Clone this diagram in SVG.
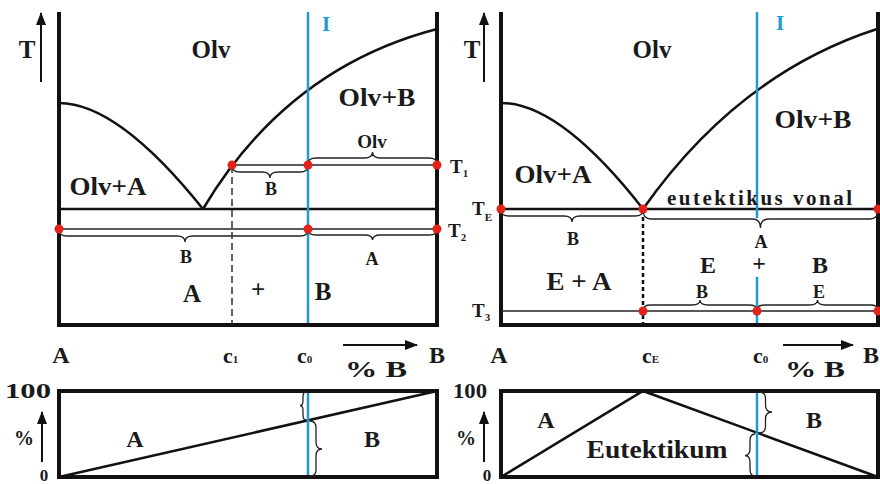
<svg xmlns="http://www.w3.org/2000/svg" width="880" height="484" viewBox="0 0 880 484" font-family="'Liberation Serif', 'Times New Roman', serif">
<defs>
<marker id="ah" viewBox="0 0 13 10" refX="12" refY="5" markerWidth="13" markerHeight="10" markerUnits="userSpaceOnUse" orient="auto">
<path d="M0,0 L13,5 L0,10 z" fill="#111"/>
</marker>
</defs>
<style>
text{font-family:"Liberation Serif","Times New Roman",serif;font-weight:bold;fill:#1a1a1a;text-anchor:middle}
.xl{font-size:25px}
.lg{font-size:24px}
.md{font-size:19px}
.sm{font-size:18px}
.st{text-anchor:start}
.sub{font-size:11px}
.blue{fill:#1e9ad6}
.frame{fill:none;stroke:#111;stroke-width:4}
.curve{fill:none;stroke:#111;stroke-width:2.5}
.thick{stroke:#111;stroke-width:2.5}
.thin{stroke:#222;stroke-width:1.4}
.bl{stroke:#1e9ad6;stroke-width:2.5}
.brace{fill:none;stroke:#222;stroke-width:1.3}
.arrow{stroke:#111;stroke-width:2;marker-end:url(#ah)}
.dot{fill:#e2231a}
</style>
<rect width="880" height="484" fill="#fff"/>

<g id="left-diagram">
<path class="frame" d="M59 12 V325 H437 V12"/>
<path class="curve" d="M59 103 Q118 103 203 209"/>
<path class="curve" d="M203 209 Q287 68 437 29"/>
<line class="thick" x1="59" y1="209" x2="437" y2="209"/>
<line class="thin" x1="59" y1="229" x2="437" y2="229"/>
<line class="thin" x1="232" y1="165" x2="437" y2="165"/>
<line class="thin" x1="232" y1="166" x2="232" y2="325" stroke-dasharray="7 4"/>
<line class="bl" x1="308" y1="12" x2="308" y2="323"/>
</g>

<g id="right-diagram">
<path class="frame" d="M501 12 V325 H878 V12"/>
<path class="curve" d="M501 103 Q560 103 643 209"/>
<path class="curve" d="M643 209 Q738 74 877 29"/>
<line class="thick" x1="501" y1="209" x2="878" y2="209" stroke-width="3"/>
<line class="thin" x1="501" y1="311" x2="878" y2="311"/>
<line class="thick" x1="643" y1="210" x2="643" y2="325" stroke-dasharray="4 3"/>
<line class="bl" x1="757" y1="12" x2="757" y2="218"/>
<line class="bl" x1="757" y1="277" x2="757" y2="323"/>
</g>

<g id="left-bar">
<rect class="frame" x="59" y="391" width="378" height="86"/>
<line class="curve" x1="59" y1="477" x2="437" y2="391"/>
<line class="bl" x1="308" y1="393" x2="308" y2="475"/>
</g>

<g id="right-bar">
<rect class="frame" x="501" y="391" width="377" height="86"/>
<path class="curve" d="M501 477 L643 391 L878 477"/>
<line class="bl" x1="757" y1="393" x2="757" y2="475"/>
</g>

<g id="connectors">
<path class="brace" d="M232 166 Q232 172 240 172 L262 172 Q270 172 270 178 Q270 172 278 172 L300 172 Q308 172 308 166"/>
<path class="brace" d="M308 164 Q308 158 316 158 L364.5 158 Q372.5 158 372.5 152 Q372.5 158 380.5 158 L429 158 Q437 158 437 164"/>
<path class="brace" d="M59 230 Q59 236 67 236 L177 236 Q185 236 185 242 Q185 236 193 236 L300 236 Q308 236 308 230"/>
<path class="brace" d="M308 230 Q308 235 316 235 L364.5 235 Q372.5 235 372.5 240 Q372.5 235 380.5 235 L429 235 Q437 235 437 230"/>
<path class="brace" d="M501 210 Q501 216 509 216 L564 216 Q572 216 572 222 Q572 216 580 216 L635 216 Q643 216 643 210"/>
<path class="brace" d="M643 210 Q643 219 651 219 L752.5 219 Q760.5 219 760.5 228 Q760.5 219 768.5 219 L870 219 Q878 219 878 210"/>
<path class="brace" d="M643 310 Q643 305 651 305 L692 305 Q700 305 700 300 Q700 305 708 305 L749 305 Q757 305 757 310"/>
<path class="brace" d="M757 310 Q757 305 765 305 L809.5 305 Q817.5 305 817.5 300 Q817.5 305 825.5 305 L870 305 Q878 305 878 310"/>
<path class="brace" d="M306 392 Q303 392 303 397 L303 400.5 Q303 405.5 300 405.5 Q303 405.5 303 410.5 L303 415 Q303 420 306 420"/>
<path class="brace" d="M310 421 Q316 421 316 428 L316 442 Q316 449 322 449 Q316 449 316 456 L316 470 Q316 476 310 476"/>
<path class="brace" d="M759 392 Q765.5 392 765.5 399 L765.5 405 Q765.5 412 772 412 Q765.5 412 765.5 419 L765.5 426 Q765.5 433 759 433"/>
<path class="brace" d="M755 434 Q750 434 750 441 L750 448.5 Q750 455.5 745 455.5 Q750 455.5 750 462.5 L750 469 Q750 476 755 476"/>
<line class="arrow" x1="41" y1="82" x2="41" y2="13"/>
<line class="arrow" x1="484" y1="82" x2="484" y2="13"/>
<line class="arrow" x1="42" y1="462" x2="42" y2="412"/>
<line class="arrow" x1="484" y1="462" x2="484" y2="412"/>
<line class="arrow" x1="343" y1="345" x2="417" y2="345"/>
<line class="arrow" x1="783" y1="345" x2="853" y2="345"/>
</g>

<g id="points">
<circle class="dot" cx="232" cy="165" r="4.5"/>
<circle class="dot" cx="308" cy="165" r="4.5"/>
<circle class="dot" cx="437" cy="165" r="4.5"/>
<circle class="dot" cx="59" cy="229" r="4.5"/>
<circle class="dot" cx="308" cy="229" r="4.5"/>
<circle class="dot" cx="437" cy="229" r="4.5"/>
<circle class="dot" cx="501" cy="209" r="4.5"/>
<circle class="dot" cx="643" cy="209" r="4.5"/>
<circle class="dot" cx="878" cy="209" r="4.5"/>
<circle class="dot" cx="643" cy="311" r="4.5"/>
<circle class="dot" cx="757" cy="311" r="4.5"/>
<circle class="dot" cx="878" cy="311" r="4.5"/>
</g>

<g id="left-labels">
<text class="xl" x="27" y="58" font-size="26">T</text>
<text class="xl" x="211" y="58">Olv</text>
<text class="blue" x="326" y="31" font-size="21">I</text>
<text class="xl" x="377" y="106" textLength="77" lengthAdjust="spacingAndGlyphs">Olv+B</text>
<text class="md" x="372" y="148">Olv</text>
<text class="sm" x="271" y="195">B</text>
<text class="xl" x="108" y="195" textLength="77" lengthAdjust="spacingAndGlyphs">Olv+A</text>
<text class="sm" x="186" y="263">B</text>
<text class="sm" x="372" y="265">A</text>
<text class="xl" x="192" y="302">A</text>
<text class="xl" x="258" y="298">+</text>
<text class="xl" x="323" y="300">B</text>
<text class="md st" x="450" y="173">T<tspan class="sub" dy="4">1</tspan></text>
<text class="md st" x="448" y="237">T<tspan class="sub" dy="4">2</tspan></text>
<text class="lg" x="61" y="363">A</text>
<text class="st" x="223" y="363" font-size="22">c<tspan class="sub" font-size="10">1</tspan></text>
<text class="st" x="297" y="363" font-size="22">c<tspan class="sub" font-size="10">0</tspan></text>
<text class="lg" x="376" y="377" textLength="62" lengthAdjust="spacingAndGlyphs">% B</text>
<text class="lg" x="437" y="363">B</text>
<text x="28" y="398" font-size="20" textLength="46" lengthAdjust="spacingAndGlyphs">100</text>
<text x="24" y="445" font-size="20">%</text>
<text x="44" y="481" font-size="17">0</text>
<text class="lg" x="135" y="447">A</text>
<text class="lg" x="372" y="447">B</text>
</g>

<g id="right-labels">
<text class="xl" x="472" y="58" font-size="26">T</text>
<text class="xl" x="652" y="58">Olv</text>
<text class="blue" x="780" y="30" font-size="21">I</text>
<text class="xl" x="813" y="128" textLength="77" lengthAdjust="spacingAndGlyphs">Olv+B</text>
<text class="xl" x="553" y="183" textLength="77" lengthAdjust="spacingAndGlyphs">Olv+A</text>
<text class="md st" x="472" y="215">T<tspan class="sub" dy="6">E</tspan></text>
<text class="st" x="667" y="205" font-size="21" textLength="185" lengthAdjust="spacing">eutektikus vonal</text>
<text class="sm" x="573" y="245">B</text>
<text class="sm" x="761" y="248">A</text>
<text class="xl" x="579" y="290" font-size="26" textLength="65" lengthAdjust="spacingAndGlyphs">E + A</text>
<text class="lg" x="708" y="273">E</text>
<text class="lg" x="759" y="271">+</text>
<text class="lg" x="820" y="273">B</text>
<text class="sm" x="702" y="298">B</text>
<text class="sm" x="819" y="298">E</text>
<text class="md st" x="472" y="317">T<tspan class="sub" dy="4">3</tspan></text>
<text class="lg" x="499" y="363">A</text>
<text class="st" x="642" y="363" font-size="22">c<tspan class="sub" font-size="9">E</tspan></text>
<text class="st" x="753" y="363" font-size="22">c<tspan class="sub" font-size="10">0</tspan></text>
<text class="lg" x="815" y="377" textLength="60" lengthAdjust="spacingAndGlyphs">% B</text>
<text class="lg st" x="863" y="363">B</text>
<text x="470" y="398" font-size="20" textLength="34" lengthAdjust="spacingAndGlyphs">100</text>
<text x="466" y="445" font-size="20">%</text>
<text x="487" y="481" font-size="17">0</text>
<text class="lg" x="546" y="428">A</text>
<text class="lg" x="814" y="428">B</text>
<text class="xl" x="657" y="458" textLength="141" lengthAdjust="spacingAndGlyphs">Eutektikum</text>
</g>
</svg>
